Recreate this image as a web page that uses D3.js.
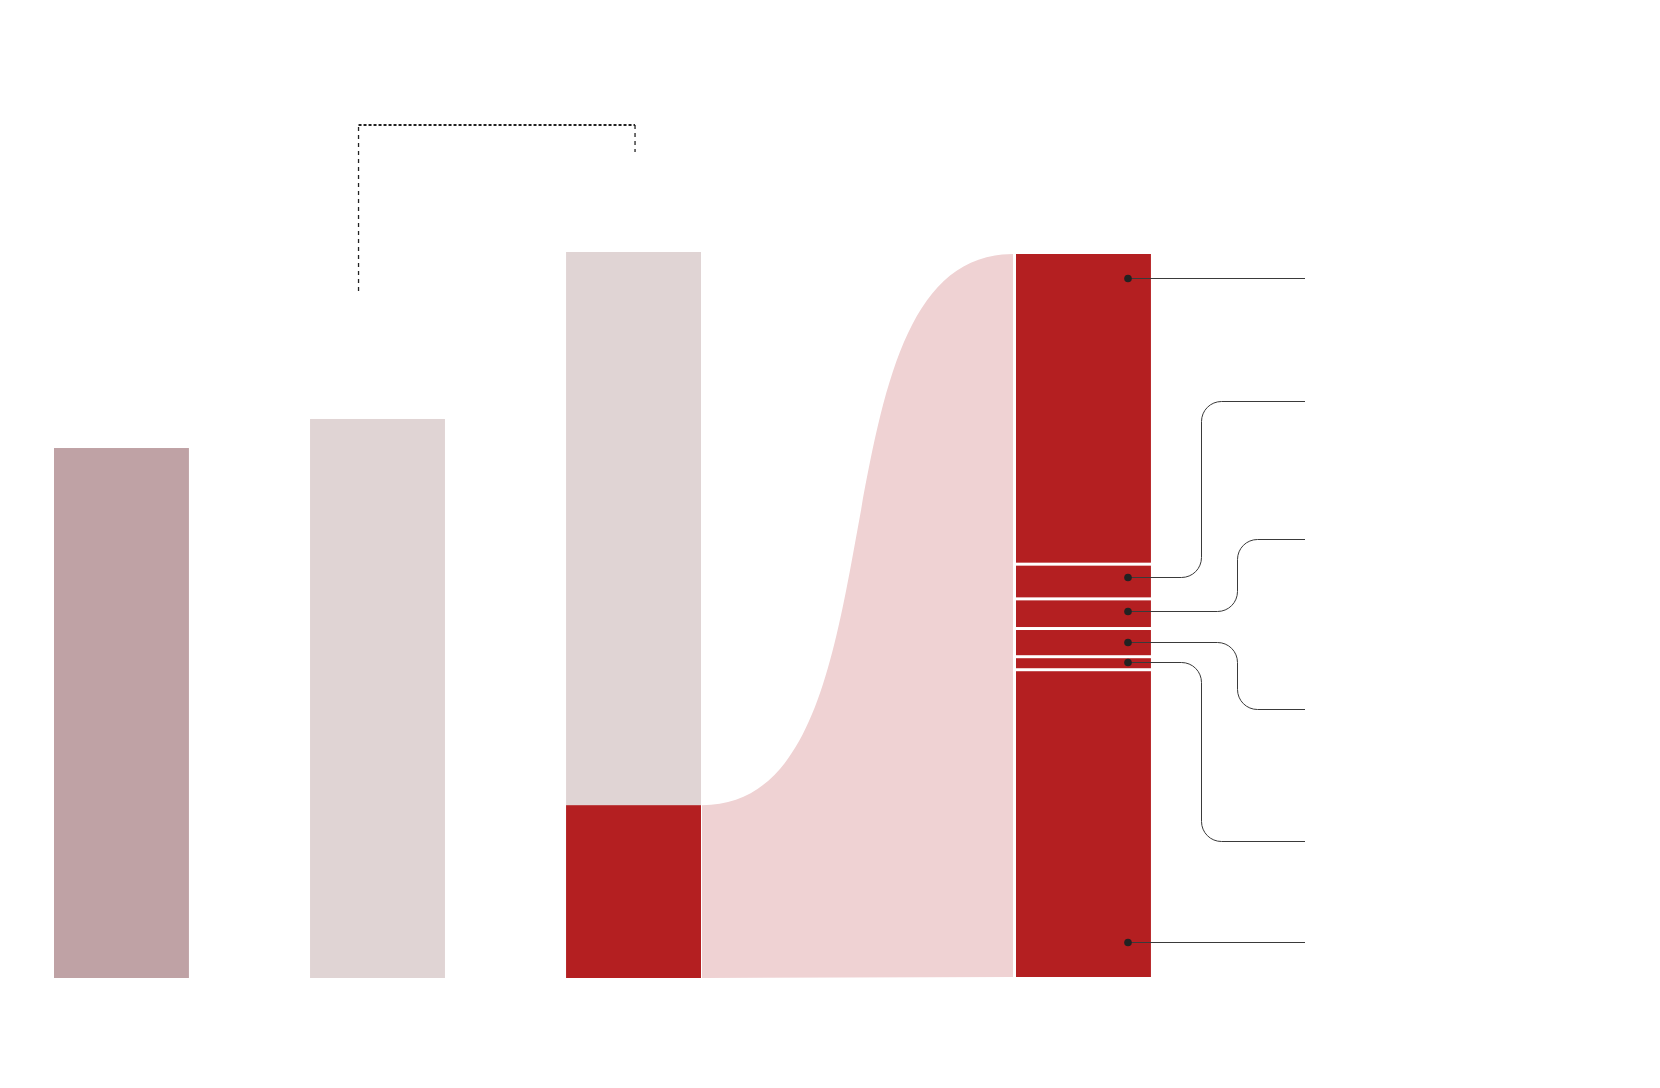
<!DOCTYPE html>
<html>
<head>
<meta charset="utf-8">
<script src="https://cdn.jsdelivr.net/npm/d3@7"></script>
<style>
  body { margin: 0; background: #fff; }
  svg { display: block; }
</style>
</head>
<body>
<div id="chart"></div>
<script>
// first three columns (share of the tallest column, in %)
var columns = ["A", "B", "C"];
var columnValues = [73, 77, 100];
var highlightValue = 23.8;      // red slice of column C, expanded on the right

// breakdown of the red slice, top to bottom (in %)
var parts = ["p1", "p2", "p3", "p4", "p5", "p6"];
var partValues = [42.9, 4.8, 4.1, 3.9, 1.8, 42.5];

// where each callout line ends on the right (label positions)
var calloutY = [279, 402, 540, 710, 842, 943];
var calloutElbow = [0, 1, 2, 2, 1, 0];   // 0 = straight, 1 = near elbow, 2 = far elbow

var width = 1660, height = 1088;
var colors = {
    first: "#bfa2a5",
    muted: "#e0d4d4",
    red: "#b41f21",
    flow: "#efd2d3"
};

var svg = d3.select("#chart")
    .append("svg")
    .attr("width", width)
    .attr("height", height);

var x = d3.scaleBand()
    .domain(columns)
    .range([54, 701])
    .paddingInner(0.473)
    .paddingOuter(0);

var y = d3.scaleLinear()
    .domain([0, 100])
    .range([978, 252]);

// column on the right
var x4 = 1016, w4 = x.bandwidth();
var y4 = d3.scaleLinear()
    .domain([0, 100])
    .range([977, 254]);

// flow from the red slice to the breakdown column
var fx0 = x("C") + x.bandwidth() + 1, fx1 = x4 - 3;
var k = 0.68;   // control point pull, steeper than a plain link
var fp = d3.path();
fp.moveTo(fx0, y(highlightValue));
fp.bezierCurveTo(fx0 + k * (fx1 - fx0), y(highlightValue),
    fx1 - k * (fx1 - fx0), y4(100), fx1, y4(100));
fp.lineTo(fx1, y4(0));
fp.lineTo(fx0, y(0));
fp.closePath();
svg.append("path")
    .attr("d", fp.toString())
    .style("fill", colors.flow);

// columns
svg.append("g")
    .selectAll("rect")
    .data(columns)
    .enter()
    .append("rect")
    .attr("x", function (d) { return x(d); })
    .attr("width", x.bandwidth())
    .attr("y", function (d, i) { return y(columnValues[i]); })
    .attr("height", function (d, i) { return y(0) - y(columnValues[i]); })
    .style("fill", function (d, i) { return i == 0 ? colors.first : colors.muted; });

svg.append("rect")
    .attr("x", x("C"))
    .attr("width", x.bandwidth())
    .attr("y", y(highlightValue))
    .attr("height", y(0) - y(highlightValue))
    .style("fill", colors.red);

// stacked breakdown
var segs = [];
var cum = 0;
partValues.forEach(function (v, i) {
    var top = y4(100 - cum);
    cum += v;
    var bottom = y4(100 - cum);
    segs.push({
        name: parts[i],
        top: top + (i == 0 ? 0 : 1.5),
        bottom: bottom - (i == partValues.length - 1 ? 0 : 1.5)
    });
});

svg.append("g")
    .selectAll("rect")
    .data(segs)
    .enter()
    .append("rect")
    .attr("x", x4)
    .attr("width", w4)
    .attr("y", function (d) { return d.top; })
    .attr("height", function (d) { return d.bottom - d.top; })
    .style("fill", colors.red);

// callouts
var dotX = x4 + 112, endX = 1305, r = 20;
var elbowX = [0, 1201.5, 1237.5];
var callouts = svg.append("g");

segs.forEach(function (s, i) {
    var h = s.bottom - s.top;
    var pad = Math.min(12, h / 2);
    var dy = Math.max(s.top + pad, Math.min(s.bottom - pad, calloutY[i]));
    if (calloutElbow[i] == 0) dy = calloutY[i];
    dy = Math.round(dy) - 0.5;
    var ly = calloutY[i] - 0.5;
    var p = d3.path();
    p.moveTo(dotX, dy);
    if (calloutElbow[i] == 0) {
        p.lineTo(endX, ly);
    } else {
        var ex = elbowX[calloutElbow[i]];
        p.arcTo(ex, dy, ex, ly, r);
        p.arcTo(ex, ly, endX, ly, r);
        p.lineTo(endX, ly);
    }
    callouts.append("path")
        .attr("d", p.toString())
        .style("fill", "none")
        .style("stroke", "#3a3a3a")
        .style("stroke-width", 1);
    callouts.append("circle")
        .attr("cx", dotX)
        .attr("cy", dy)
        .attr("r", 3.8)
        .style("fill", "#222");
});

// dashed bracket between columns B and C
var bx0 = x("B") + 48.5, bx1 = x("C") + x.bandwidth() / 2 + 1.5, by = 125;
svg.append("path")
    .attr("d", "M" + bx0 + "," + 291 + "V" + by)
    .style("fill", "none")
    .style("stroke", "#222")
    .style("stroke-width", 1.3)
    .style("stroke-dasharray", "4,4");
svg.append("path")
    .attr("d", "M" + bx0 + "," + by + "H" + bx1)
    .style("fill", "none")
    .style("stroke", "#222")
    .style("stroke-width", 2)
    .style("stroke-dasharray", "3,2");
svg.append("path")
    .attr("d", "M" + bx1 + "," + by + "V" + 152)
    .style("fill", "none")
    .style("stroke", "#222")
    .style("stroke-width", 1.3)
    .style("stroke-dasharray", "4,4");
</script>
</body>
</html>
